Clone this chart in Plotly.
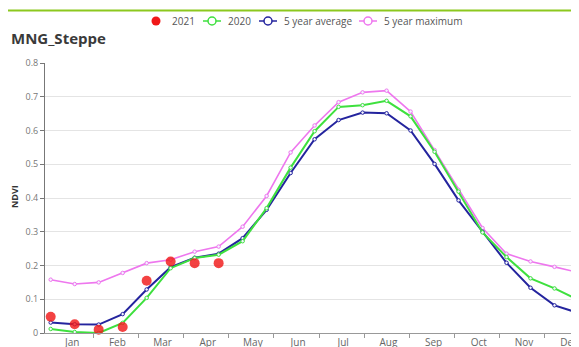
import plotly.graph_objects as go

# ---------------- data ----------------
doy = [1, 17, 33, 49, 65, 81, 97, 113, 129, 145, 161, 177, 193, 209, 225, 241,
       257, 273, 289, 305, 321, 337, 353]
months = ["Jan", "Feb", "Mar", "Apr", "May", "Jun", "Jul", "Aug", "Sep", "Oct", "Nov", "Dec"]

ndvi_2021 = [0.048, 0.026, 0.010, 0.018, 0.155, 0.212, 0.207, 0.207]
ndvi_2020 = [0.012, 0.003, 0.000, 0.030, 0.104, 0.192, 0.222, 0.232, 0.272, 0.370, 0.490,
             0.598, 0.670, 0.675, 0.688, 0.642, 0.537, 0.419, 0.298, 0.225, 0.162, 0.132, 0.098]
ndvi_avg5 = [0.031, 0.026, 0.025, 0.056, 0.129, 0.195, 0.223, 0.235, 0.281, 0.365, 0.474,
             0.574, 0.631, 0.653, 0.651, 0.600, 0.501, 0.393, 0.300, 0.208, 0.134, 0.082, 0.059]
ndvi_max5 = [0.158, 0.145, 0.150, 0.178, 0.207, 0.217, 0.241, 0.256, 0.315, 0.406, 0.535,
             0.615, 0.684, 0.713, 0.718, 0.656, 0.542, 0.424, 0.311, 0.235, 0.212, 0.196, 0.179]

# ---------------- layout helpers ----------------
OFF = 8                      # page body margin
FW, FH = 600, 347
L, T, R, B = 37, 55, 16, 22
W, H = FW - L - R, FH - T - B
MONTH_SPAN = 30.125
MONTH0 = -0.73
XRANGE = [-2.8, 362.0]

def px(x):   # page pixel -> paper
    return (x - OFF - L) / W

def py(y):
    return (T + H - (y - OFF)) / H

C_RED = "#f01818"
C_GREEN = "#3ee03e"
C_BLUE = "#24249e"
C_PINK = "#ee77ee"
FONT = "Open Sans"

fig = go.Figure()

def line_trace(y, color, width, name):
    return go.Scatter(
        x=doy[:len(y)], y=y, mode="lines+markers", name=name,
        line=dict(color=color, width=width),
        marker=dict(symbol="circle", size=3.5, color="#f4f4ff", line=dict(color=color, width=1)),
        showlegend=False,
    )

fig.add_trace(line_trace(ndvi_max5, C_PINK, 1.6, "5 year maximum"))
fig.add_trace(line_trace(ndvi_avg5, C_BLUE, 2, "5 year average"))
fig.add_trace(line_trace(ndvi_2020, C_GREEN, 2, "2020"))
fig.add_trace(go.Scatter(
    x=doy[:len(ndvi_2021)], y=ndvi_2021, mode="markers", name="2021",
    marker=dict(size=10, color=C_RED, opacity=0.82, line=dict(width=0)),
    cliponaxis=False, showlegend=False,
))

boundaries = [MONTH0 + MONTH_SPAN * k for k in range(1, 13)]
centers = [MONTH0 + MONTH_SPAN * (k + 0.5) + 1.0 for k in range(12)]

fig.update_layout(
    width=FW, height=FH,
    margin=dict(l=L, r=R, t=T, b=B),
    paper_bgcolor="white", plot_bgcolor="white",
    font=dict(family=FONT, color="#666", size=10),
    showlegend=False,
    xaxis=dict(
        range=XRANGE, tickmode="array", tickvals=centers, ticktext=months,
        ticks="", showgrid=False, zeroline=False, showline=True,
        linecolor="#999", linewidth=1, tickfont=dict(size=10, color="#666"),
        automargin=False, ticklabelstandoff=0,
        minor=dict(tickmode="array", tickvals=boundaries, ticks="outside",
                   ticklen=4, tickcolor="#999", tickwidth=1, showgrid=False),
    ),
    yaxis=dict(
        range=[0, 0.8], dtick=0.1, tick0=0, showgrid=True, gridcolor="#e4e4e4",
        gridwidth=1, zeroline=False, showline=True, linecolor="#777", linewidth=1,
        ticks="outside", ticklen=4, tickcolor="#777",
        tickfont=dict(size=9, color="#777"), automargin=False,
    ),
)

shapes = []
annotations = []

# top green rule
shapes.append(dict(type="line", xref="paper", yref="paper", x0=px(0), x1=px(FW + OFF),
                   y0=py(10.5), y1=py(10.5), line=dict(color="#8cc81e", width=2)))

# title
annotations.append(dict(text="<b>MNG_Steppe</b>", xref="paper", yref="paper",
                        x=px(9), y=py(38), xanchor="left", yanchor="middle",
                        showarrow=False, font=dict(size=15, color="#3a3a3a", family=FONT)))
# y-axis title
annotations.append(dict(text="<b>NDVI</b>", xref="paper", yref="paper",
                        x=px(14), y=py(197), xanchor="center", yanchor="middle",
                        textangle=-90, showarrow=False,
                        font=dict(size=9, color="#333", family=FONT)))

# legend (manual)
LY = 21
def legend_item(x0, color, label, filled):
    if filled:
        shapes.append(dict(type="circle", xref="paper", yref="paper",
                           x0=px(x0 - 4.5), x1=px(x0 + 4.5), y0=py(LY + 4.5), y1=py(LY - 4.5),
                           fillcolor=color, line=dict(color=color, width=0)))
        tx = x0 + 14
    else:
        shapes.append(dict(type="line", xref="paper", yref="paper",
                           x0=px(x0), x1=px(x0 + 18), y0=py(LY), y1=py(LY),
                           line=dict(color=color, width=1.5)))
        shapes.append(dict(type="circle", xref="paper", yref="paper",
                           x0=px(x0 + 5), x1=px(x0 + 13), y0=py(LY + 4), y1=py(LY - 4),
                           fillcolor="white", line=dict(color=color, width=1.5)))
        tx = x0 + 23
    annotations.append(dict(text=label, xref="paper", yref="paper", x=px(tx), y=py(LY),
                            xanchor="left", yanchor="middle", showarrow=False,
                            font=dict(size=10, color="#555", family=FONT)))

legend_item(156, C_RED, "2021", True)
legend_item(203, C_GREEN, "2020", False)
legend_item(259, C_BLUE, "5 year average", False)
legend_item(359, C_PINK, "5 year maximum", False)

fig.update_layout(shapes=shapes, annotations=annotations)

fig.write_html("out.html")
